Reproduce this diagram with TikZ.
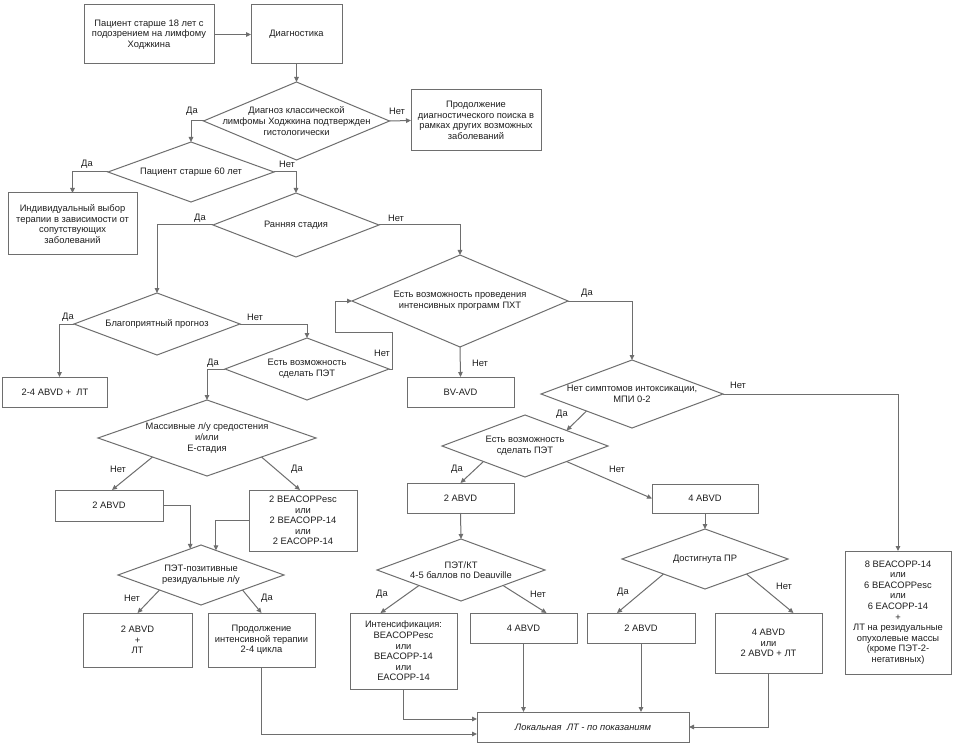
\documentclass[tikz,border=0pt]{standalone}
\usepackage{fontspec}
\setmainfont{Liberation Sans}
\usetikzlibrary{shapes.geometric,arrows.meta,calc}
\definecolor{linec}{HTML}{6E6E6E}
\definecolor{txtc}{HTML}{1E1E1E}
\begin{document}
\begin{tikzpicture}[x=1pt,y=-1pt,
  every node/.style={font=\fontsize{9.35}{10.6}\selectfont, text=txtc},
  box/.style={draw=linec, line width=1pt, rectangle, align=center, inner sep=0pt, outer sep=0pt},
  dia/.style={draw=linec, line width=1pt, diamond, inner sep=0pt, outer sep=0pt},
  dtext/.style={align=center, inner sep=0pt},
  conn/.style={draw=linec, line width=1pt, -{Triangle[length=5pt,width=4.5pt]}},
  lab/.style={inner sep=0pt}]
\useasboundingbox[fill=white] (0,0) rectangle (956,746);

% boxes
\node[box, minimum width=130, minimum height=59] (a) at (149,34.5) {Пациент старше 18 лет с\\подозрением на лимфому\\Ходжкина};
\node[box, minimum width=91, minimum height=59] (b) at (296.5,34.5) {Диагностика};
\node[box, minimum width=130, minimum height=61] (c) at (476,120.5) {Продолжение\\диагностического поиска в\\рамках других возможных\\заболеваний};
\node[box, minimum width=129, minimum height=62] (e) at (72.5,224) {Индивидуальный выбор\\терапии в зависимости от\\сопутствующих\\заболеваний};
\node[box, minimum width=105, minimum height=30] (f) at (55,392) {2-4 ABVD +\ \ ЛТ};
\node[box, minimum width=107, minimum height=30] (g) at (460.5,392) {BV-AVD};
\node[box, minimum width=108, minimum height=31] (p) at (109,505.5) {2 ABVD};
\node[box, minimum width=108, minimum height=61] (r) at (303,520.5) {2 BEACOPPesc\\или\\2 BEACOPP-14\\или\\2 EACOPP-14};
\node[box, minimum width=109, minimum height=54] (s) at (137.5,640) {2 ABVD\\+\\ЛТ};
\node[box, minimum width=107, minimum height=54] (q) at (261.5,640) {Продолжение\\интенсивной терапии\\2-4 цикла};
\node[box, minimum width=107, minimum height=30] (i) at (460.5,498) {2 ABVD};
\node[box, minimum width=106, minimum height=29] (j) at (705,498.5) {4 ABVD};
\node[box, minimum width=107, minimum height=76] (m) at (403.5,651) {Интенсификация:\\BEACOPPesc\\или\\BEACOPP-14\\или\\EACOPP-14};
\node[box, minimum width=107, minimum height=30] (n) at (523.5,628) {4 ABVD};
\node[box, minimum width=108, minimum height=30] (k) at (641,628) {2 ABVD};
\node[box, minimum width=107, minimum height=60] (l) at (768.5,643) {4 ABVD\\или\\2 ABVD + ЛТ};
\node[box, minimum width=106, minimum height=123] (h) at (898,612.5) {8 BEACOPP-14\\или\\6 BEACOPPesc\\или\\6 EACOPP-14\\+\\ЛТ на резидуальные\\опухолевые массы\\(кроме ПЭТ-2-\\негативных)};
\node[box, minimum width=212, minimum height=30] (o) at (583,727) {\itshape Локальная\ \ ЛТ - по показаниям};

% diamonds
\node[dia, minimum width=186, minimum height=78, label={[dtext]center:{Диагноз классической\\лимфомы Ходжкина подтвержден\\гистологически}}] (d1) at (296.5,121) {};
\node[dia, minimum width=166, minimum height=60, label={[dtext]center:{Пациент старше 60 лет}}] (d2) at (191,172) {};
\node[dia, minimum width=166, minimum height=64, label={[dtext]center:{Ранняя стадия}}] (d3) at (296,225) {};
\node[dia, minimum width=166, minimum height=62, label={[dtext]center:{Благоприятный прогноз}}] (d4) at (157,324) {};
\node[dia, minimum width=164, minimum height=62, label={[dtext]center:{Есть возможность\\сделать ПЭТ}}] (d5) at (307,369) {};
\node[dia, minimum width=216, minimum height=92, label={[dtext]center:{Есть возможность проведения\\интенсивных программ ПХТ}}] (d6) at (460,301) {};
\node[dia, minimum width=182, minimum height=68, label={[dtext]center:{Нет симптомов интоксикации,\\МПИ 0-2}}] (d7) at (632,394) {};
\node[dia, minimum width=166, minimum height=62, label={[dtext]center:{Есть возможность\\сделать ПЭТ}}] (d8) at (525,446) {};
\node[dia, minimum width=166, minimum height=60, label={[dtext]center:{Достигнута ПР}}] (d9) at (705,559) {};
\node[dia, minimum width=168, minimum height=62, label={[dtext]center:{ПЭТ/КТ\\4-5 баллов по Deauville}}] (d10) at (461,570) {};
\node[dia, minimum width=218, minimum height=76, label={[dtext]center:{Массивные л/у средостения\\и/или\\E-стадия}}] (d11) at (207,438) {};
\node[dia, minimum width=166, minimum height=60, label={[dtext]center:{ПЭТ-позитивные\\резидуальные л/у}}] (d12) at (201,575) {};

% connectors
\draw[conn] (a.east) -- (b.west);
\draw[conn] (b.south) -- (d1.north);
\draw[conn] (d1.east) -- (c.west);
\draw[conn] (d1.west) -| (d2.north);
\draw[conn] (d2.west) -| (e.north);
\draw[conn] (d2.east) -| (d3.north);
\draw[conn] (d3.west) -| (d4.north);
\draw[conn] (d3.east) -| (d6.north);
\draw[conn] (d4.west) -| ([xshift=4.5pt]f.north);
\draw[conn] (d4.east) -| (d5.north);
\draw[conn] (d5.west) -| (d11.north);
\draw[conn] (d5.east) -- ++(3,0) |- (335,332) |- (d6.west);
\draw[conn] (d6.south) -- (g.north);
\draw[conn] (d6.east) -| (d7.north);
\draw[conn] (d7.east) -| (h.north);
\draw[conn] (d7.south west) -- (d8.north east);
\draw[conn] (d8.south west) -- (i.north);
\draw[conn] (d8.south east) -- (j.west);
\draw[conn] (i.south) -- (d10.north);
\draw[conn] (j.south) -- (d9.north);
\draw[conn] (d10.south west) -- ([xshift=-23pt]m.north);
\draw[conn] (d10.south east) -- ([xshift=23pt]n.north);
\draw[conn] (d9.south west) -- ([xshift=-24pt]k.north);
\draw[conn] (d9.south east) -- ([xshift=25pt]l.north);
\draw[conn] (d11.south west) -- ([xshift=3pt]p.north);
\draw[conn] (d11.south east) -- ([xshift=-3pt]r.north);
\draw[conn] (p.east) -| ($(d12.west)!0.87!(d12.north)$);
\draw[conn] (r.west) -| ($(d12.north)!0.18!(d12.east)$);
\draw[conn] (d12.south west) -- (s.north);
\draw[conn] (d12.south east) -- (q.north);
\draw[conn] (m.south) |- ([yshift=8pt]o.west);
\draw[conn] (q.south) |- ([yshift=-7pt]o.west);
\draw[conn] (n.south) -- (n.south |- o.north);
\draw[conn] (k.south) -- (k.south |- o.north);
\draw[conn] (l.south) |- (o.east);

% branch labels
\node[lab] (l1y) at (192,111) {Да};
\node[lab] (l1n) at (397,111) {Нет};
\node[lab] (l2y) at (87,164) {Да};
\node[lab] (l2n) at (287,164) {Нет};
\node[lab] (l3y) at (200,218) {Да};
\node[lab] (l3n) at (396,218) {Нет};
\node[lab] (l4y) at (68,317) {Да};
\node[lab] (l4n) at (255,317) {Нет};
\node[lab] (l5y) at (213,363) {Да};
\node[lab] (l5n) at (382,353) {Нет};
\node[lab] (l6n) at (480,363) {Нет};
\node[lab] (l6y) at (587,293) {Да};
\node[lab] (l7n) at (738,385) {Нет};
\node[lab] (l7y) at (562,414) {Да};
\node[lab] (l8y) at (457,469) {Да};
\node[lab] (l8n) at (617,469) {Нет};
\node[lab] (l11n) at (118,469) {Нет};
\node[lab] (l11y) at (297,469) {Да};
\node[lab] (l12n) at (132,598) {Нет};
\node[lab] (l12y) at (267,598) {Да};
\node[lab] (l10y) at (382,594) {Да};
\node[lab] (l10n) at (538,594) {Нет};
\node[lab] (l9y) at (623,592) {Да};
\node[lab] (l9n) at (784,586) {Нет};
\end{tikzpicture}
\end{document}
